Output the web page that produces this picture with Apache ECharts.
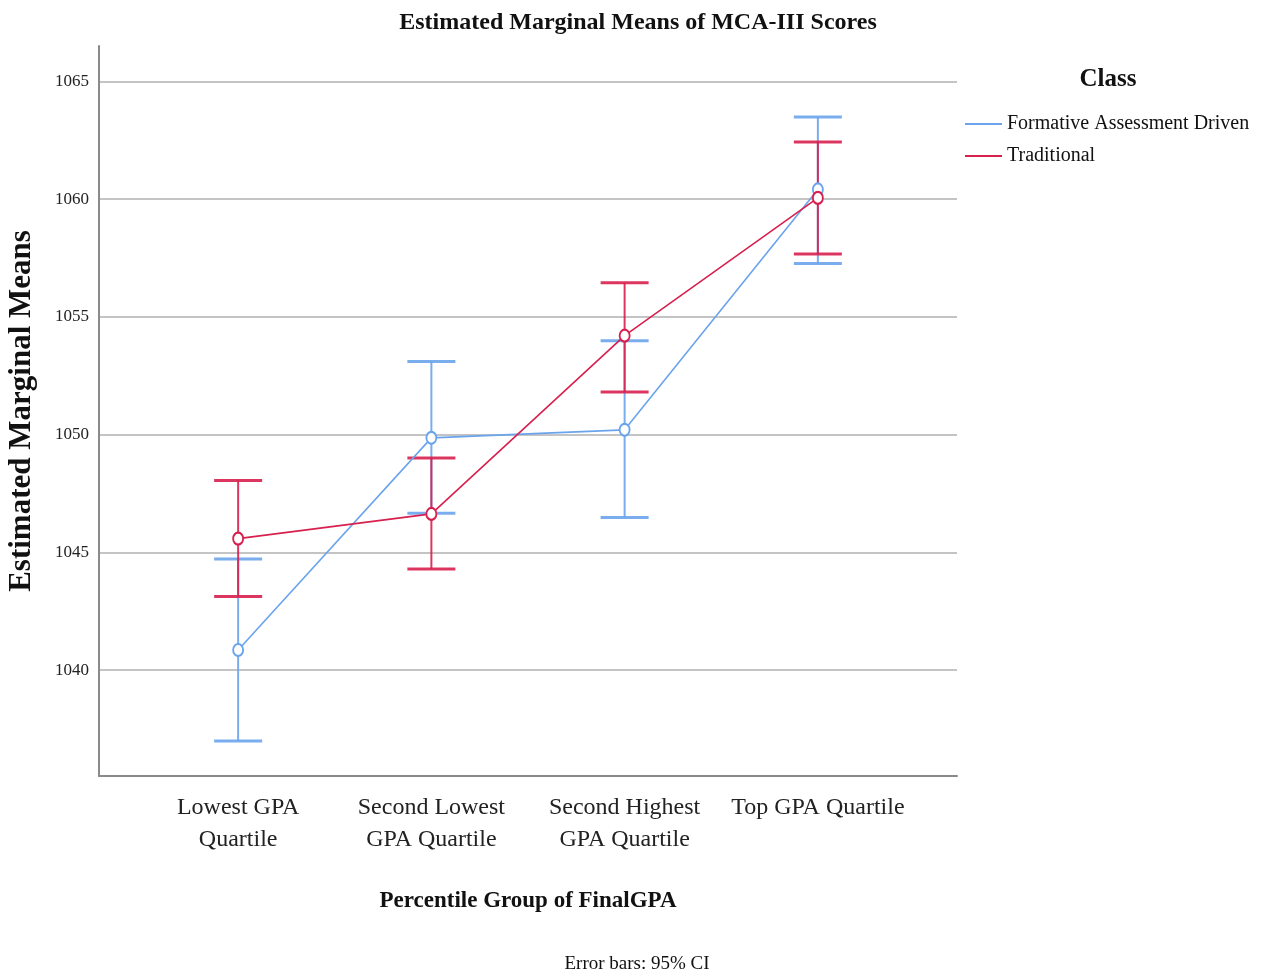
<!DOCTYPE html>
<html>
<head>
<meta charset="utf-8">
<title>Estimated Marginal Means of MCA-III Scores</title>
<script src="https://cdn.jsdelivr.net/npm/echarts@6/dist/echarts.min.js"></script>
<style>
  html, body { margin: 0; padding: 0; background: #ffffff; }
  #chart { width: 1263px; height: 980px; }
</style>
</head>
<body>
<div id="chart"></div>
<script>
// Percentile groups of final GPA (placed at x = 1..4)
const categories = ['Lowest GPA\nQuartile', 'Second Lowest\nGPA Quartile', 'Second Highest\nGPA Quartile', 'Top GPA Quartile'];
const categoryPositions = [1, 2, 3, 4];

// Estimated marginal means with 95% confidence limits
const formativeMeans = [1040.85, 1049.86, 1050.20, 1060.41];
const formativeLow   = [1036.99, 1046.66, 1046.48, 1057.26];
const formativeHigh  = [1044.71, 1053.10, 1053.98, 1063.48];

const traditionalMeans = [1045.58, 1046.63, 1054.20, 1060.05];
const traditionalLow   = [1043.12, 1044.29, 1051.81, 1057.67];
const traditionalHigh  = [1048.05, 1049.00, 1056.45, 1062.42];

// Value-axis tick labels
const yTicks = [1040, 1045, 1050, 1055, 1060, 1065];

const BLUE = '#6aa4ec';
const RED = '#d8204f';
const FONT = '"Liberation Serif", "DejaVu Serif", serif';

function pointsOf(means) {
  return categoryPositions.map((x, i) => [x, means[i]]);
}
function barsOf(low, high) {
  return categoryPositions.map((x, i) => [x, low[i], high[i]]);
}

// Draws a vertical 95% CI whisker with caps at both ends
function errorBarRenderer(color) {
  return function (params, api) {
    const x = api.value(0);
    const lo = api.coord([x, api.value(1)]);
    const hi = api.coord([x, api.value(2)]);
    const half = 24;
    return {
      type: 'group',
      children: [
        { type: 'line', shape: { x1: lo[0], y1: lo[1], x2: hi[0], y2: hi[1] },
          style: { stroke: color, lineWidth: 2, opacity: 0.9 } },
        { type: 'line', shape: { x1: hi[0] - half, y1: hi[1], x2: hi[0] + half, y2: hi[1] },
          style: { stroke: color, lineWidth: 3, opacity: 0.9 } },
        { type: 'line', shape: { x1: lo[0] - half, y1: lo[1], x2: lo[0] + half, y2: lo[1] },
          style: { stroke: color, lineWidth: 3, opacity: 0.9 } }
      ]
    };
  };
}

const chart = echarts.init(document.getElementById('chart'), null, { renderer: 'canvas' });

chart.setOption({
  backgroundColor: '#ffffff',
  animation: false,
  title: [
    {
      text: 'Estimated Marginal Means of MCA-III Scores',
      left: 633, top: 6, textAlign: 'center',
      textStyle: { fontFamily: FONT, fontSize: 24, fontWeight: 'bold', color: '#111' }
    },
    {
      text: 'Class',
      left: 1103, top: 62, textAlign: 'center',
      textStyle: { fontFamily: FONT, fontSize: 25, fontWeight: 'bold', color: '#111' }
    },
    {
      text: 'Error bars: 95% CI',
      left: 632, top: 950, textAlign: 'center',
      textStyle: { fontFamily: FONT, fontSize: 19, fontWeight: 'normal', color: '#111' }
    }
  ],
  legend: {
    orient: 'vertical',
    left: 960, top: 109,
    icon: 'rect',
    itemWidth: 37, itemHeight: 2,
    itemGap: 12,
    data: ['Formative Assessment Driven', 'Traditional'],
    textStyle: { fontFamily: FONT, fontSize: 20, color: '#111' }
  },
  grid: { left: 99, right: 306, top: 46, bottom: 204, containLabel: false, outerBoundsMode: 'none' },
  xAxis: {
    type: 'value',
    min: 0.28, max: 4.72,
    name: 'Percentile Group of FinalGPA',
    nameLocation: 'middle',
    nameGap: 114,
    nameTextStyle: { fontFamily: FONT, fontSize: 23, fontWeight: 'bold', color: '#111' },
    axisLine: { show: true, lineStyle: { color: '#8a8a8a', width: 2 } },
    axisTick: { show: false, customValues: categoryPositions },
    splitLine: { show: false },
    axisLabel: {
      customValues: categoryPositions,
      margin: 16,
      fontFamily: FONT, fontSize: 24, lineHeight: 32, color: '#222',
      formatter: v => categories[Math.round(v) - 1]
    }
  },
  yAxis: {
    type: 'value',
    min: 1035.5, max: 1066.5,
    name: 'Estimated Marginal Means',
    nameLocation: 'middle',
    nameGap: 62,
    nameRotate: 90,
    nameTextStyle: { fontFamily: FONT, fontSize: 31, fontWeight: 'bold', color: '#111' },
    axisLine: { show: true, lineStyle: { color: '#8a8a8a', width: 2 } },
    axisTick: { show: false, customValues: yTicks },
    axisLabel: {
      customValues: yTicks,
      margin: 10,
      fontFamily: FONT, fontSize: 17, color: '#222',
      formatter: v => String(Math.round(v))
    },
    splitLine: { show: true, lineStyle: { color: '#c4c4c4', width: 2 } }
  },
  series: [
    {
      name: 'Formative CI', type: 'custom',
      renderItem: errorBarRenderer(BLUE),
      data: barsOf(formativeLow, formativeHigh),
      encode: { x: 0, y: [1, 2] }, z: 2, silent: true
    },
    {
      name: 'Traditional CI', type: 'custom',
      renderItem: errorBarRenderer(RED),
      data: barsOf(traditionalLow, traditionalHigh),
      encode: { x: 0, y: [1, 2] }, z: 3, silent: true
    },
    {
      name: 'Formative Assessment Driven', type: 'line',
      data: pointsOf(formativeMeans),
      symbol: 'emptyCircle', symbolSize: [10, 12],
      lineStyle: { color: BLUE, width: 1.6 },
      itemStyle: { color: BLUE, borderWidth: 1.5 },
      z: 4
    },
    {
      name: 'Traditional', type: 'line',
      data: pointsOf(traditionalMeans),
      symbol: 'emptyCircle', symbolSize: [10, 12],
      lineStyle: { color: RED, width: 1.6 },
      itemStyle: { color: RED, borderWidth: 1.5 },
      z: 5
    }
  ]
});
</script>
</body>
</html>
